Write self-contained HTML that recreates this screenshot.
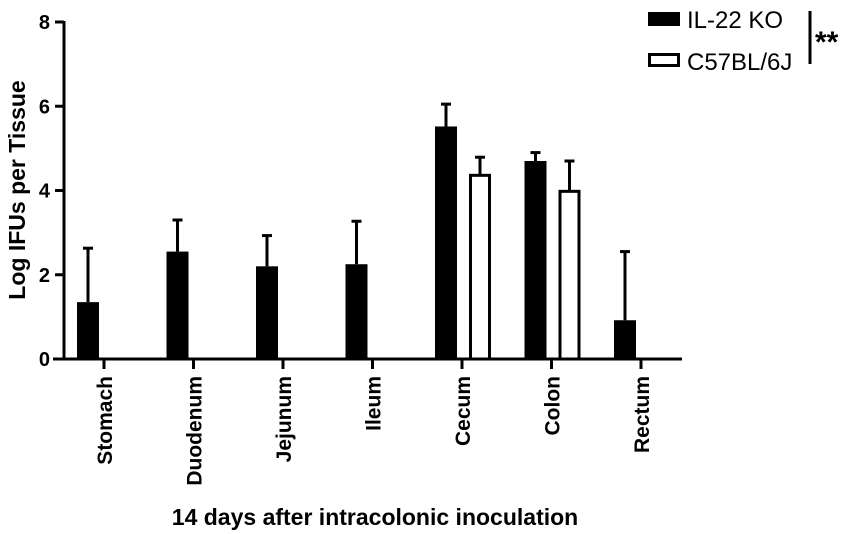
<!DOCTYPE html>
<html><head><meta charset="utf-8"><style>
body{margin:0;background:#fff;}
svg{display:block;font-family:"Liberation Sans",Arial,sans-serif;}
</style></head><body>
<svg id="chart" width="851" height="534" viewBox="0 0 851 534">
<g id="axes"></g><g id="bars"></g>
<g>
 <rect x="648" y="12" width="32" height="14" fill="#000"/>
 <text x="687" y="28" font-size="24">IL-22 KO</text>
 <rect x="649.5" y="54.5" width="29" height="11" fill="#fff" stroke="#000" stroke-width="3"/>
 <text x="687" y="70" font-size="24">C57BL/6J</text>
 <line x1="810" y1="11" x2="810" y2="64" stroke="#000" stroke-width="3"/>
 <text x="815" y="52" font-size="30" font-weight="bold">**</text>
</g>
<text x="375" y="525" font-size="23" font-weight="bold" text-anchor="middle">14 days after intracolonic inoculation</text>
<text transform="translate(25,190) rotate(-90)" font-size="23" font-weight="bold" text-anchor="middle">Log IFUs per Tissue</text>
</svg>
<script>
const categories=["Stomach","Duodenum","Jejunum","Ileum","Cecum","Colon","Rectum"];
const koValues=[1.35,2.55,2.2,2.25,5.52,4.7,0.92];
const koErr=[1.28,0.75,0.73,1.02,0.53,0.2,1.63];
const wtValues=[null,null,null,null,4.36,3.98,null];
const wtErr=[null,null,null,null,0.43,0.72,null];
const yTicks=[0,2,4,6,8];
const NS="http://www.w3.org/2000/svg";
const y0=359,yTop=22,yMax=8;
const yS=v=>y0-(y0-yTop)*v/yMax;
const xS=i=>104+i*89.5;
function mk(t,a,p){const e=document.createElementNS(NS,t);for(const k in a)e.setAttribute(k,a[k]);p.appendChild(e);return e;}
const ax=document.getElementById('axes'),bg=document.getElementById('bars');
let l=mk('line',{x1:64,y1:yTop-1,x2:64,y2:y0+1,stroke:'#000','stroke-width':3},ax);


l=mk('line',{x1:53,y1:y0,x2:682,y2:y0,stroke:'#000','stroke-width':3},ax);


yTicks.forEach(v=>{
 const t=mk('line',{x1:55,y1:yS(v),x2:64,y2:yS(v),stroke:'#000','stroke-width':3},ax);
 
 
 const tx=mk('text',{x:50,y:yS(v)+7,'font-size':20,'font-weight':'bold','text-anchor':'end'},ax);
 tx.textContent=v;
 
 
});
function errBar(cx,top,bot,name){
 const g=mk('g',{},bg);
 
 
 mk('line',{x1:cx,y1:top,x2:cx,y2:bot,stroke:'#000','stroke-width':3},g);
 mk('line',{x1:cx-5,y1:top,x2:cx+5,y2:top,stroke:'#000','stroke-width':3},g);
}
categories.forEach((c,i)=>{
 const cx=xS(i);
 const t=mk('line',{x1:cx,y1:y0,x2:cx,y2:y0+10,stroke:'#000','stroke-width':3},ax);
 
 
 const tx=mk('text',{transform:`translate(${cx+8},376) rotate(-90)`,'font-size':21,'font-weight':'bold','text-anchor':'end'},ax);
 tx.textContent=c;
 
 
 const kv=koValues[i];
 if(kv!=null){
  const x=cx-27,w=22;
  errBar(x+w/2,yS(kv+koErr[i]),yS(kv),'error-bar-ko-'+c.toLowerCase());
  const r=mk('rect',{x:x,y:yS(kv),width:w,height:y0-yS(kv),fill:'#000'},bg);
  
  
 }
 const wv=wtValues[i];
 if(wv!=null){
  const x=cx+7,w=22;
  errBar(x+w/2,yS(wv+wtErr[i]),yS(wv),'error-bar-wt-'+c.toLowerCase());
  const r=mk('rect',{x:x+1.5,y:yS(wv),width:w-3,height:y0-yS(wv),fill:'#fff',stroke:'#000','stroke-width':3},bg);
  
  
 }
});
</script>
</body></html>
